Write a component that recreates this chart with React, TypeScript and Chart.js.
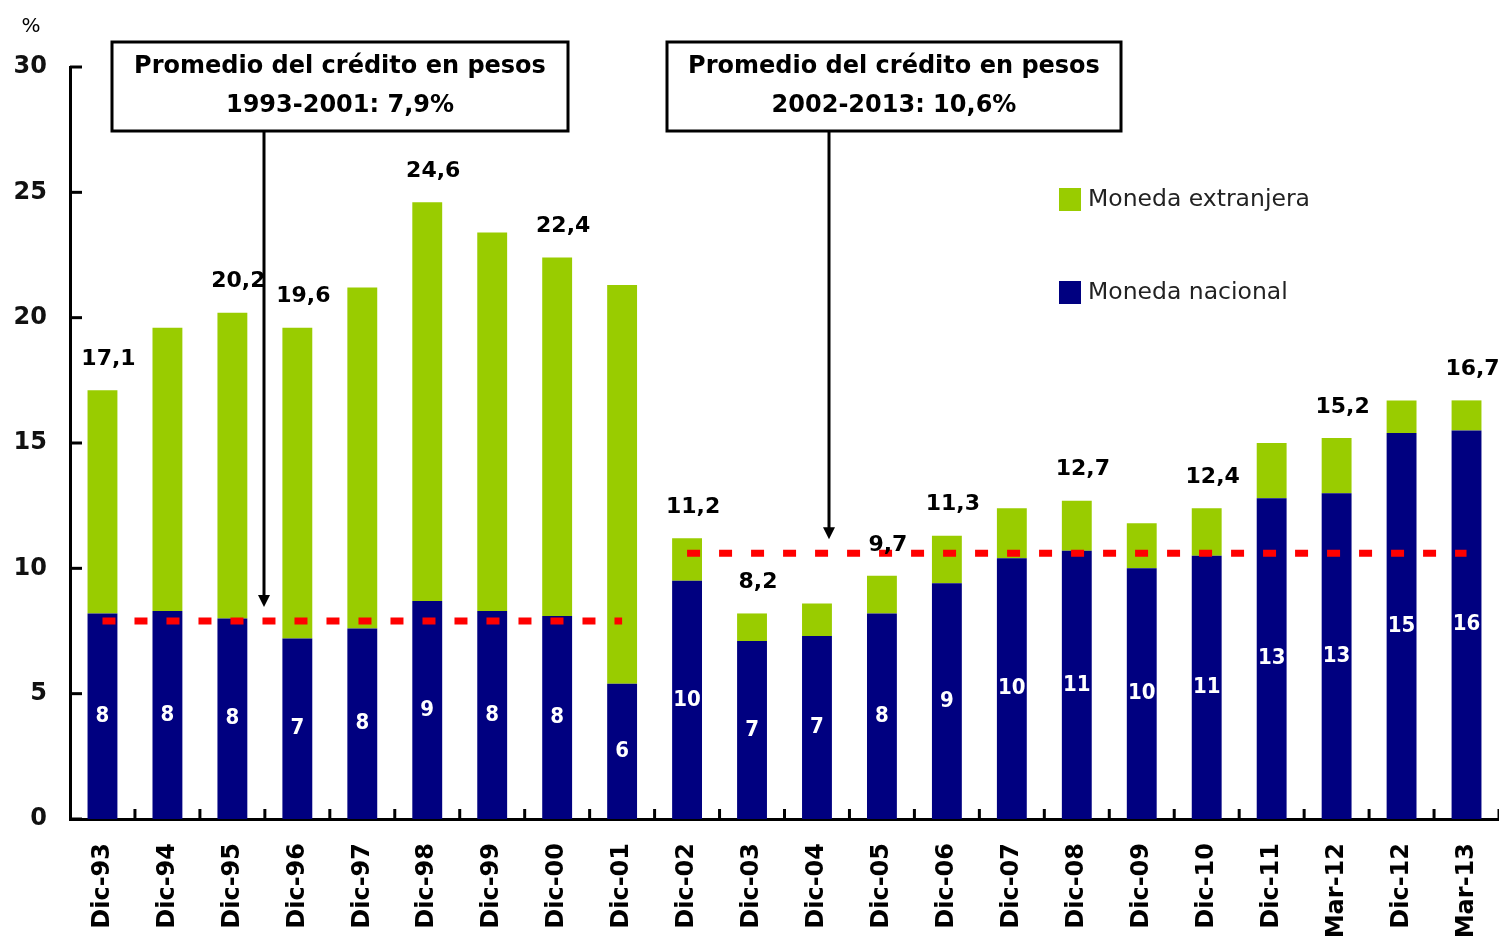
import React, { useEffect, useRef } from "react";
import { Chart, registerables } from "chart.js";

Chart.register(...registerables);

const categories = [
  "Dic-93", "Dic-94", "Dic-95", "Dic-96", "Dic-97", "Dic-98", "Dic-99", "Dic-00",
  "Dic-01", "Dic-02", "Dic-03", "Dic-04", "Dic-05", "Dic-06", "Dic-07", "Dic-08",
  "Dic-09", "Dic-10", "Dic-11", "Mar-12", "Dic-12", "Mar-13",
];

const monedaNacional = [
  8.2, 8.3, 8.0, 7.2, 7.6, 8.7, 8.3, 8.1, 5.4, 9.5, 7.1, 7.3, 8.2, 9.4, 10.4, 10.7,
  10.0, 10.5, 12.8, 13.0, 15.4, 15.5,
];

const monedaExtranjera = [
  8.9, 11.3, 12.2, 12.4, 13.6, 15.9, 15.1, 14.3, 15.9, 1.7, 1.1, 1.3, 1.5, 1.9, 2.0, 2.0,
  1.8, 1.9, 2.2, 2.2, 1.3, 1.2,
];

const nacionalLabels = [8, 8, 8, 7, 8, 9, 8, 8, 6, 10, 7, 7, 8, 9, 10, 11, 10, 11, 13, 13, 15, 16];

const totalLabels: (number | null)[] = [
  17.1, null, 20.2, 19.6, null, 24.6, null, 22.4, null, 11.2, 8.2, null, 9.7, 11.3, null,
  12.7, null, 12.4, null, 15.2, null, 16.7,
];

const promedio1993_2001 = [7.9, 7.9, 7.9, 7.9, 7.9, 7.9, 7.9, 7.9, 7.9, null, null, null, null, null, null, null, null, null, null, null, null, null];
const promedio2002_2013 = [null, null, null, null, null, null, null, null, null, 10.6, 10.6, 10.6, 10.6, 10.6, 10.6, 10.6, 10.6, 10.6, 10.6, 10.6, 10.6, 10.6];

const yTicks = [0, 5, 10, 15, 20, 25, 30];

const GREEN = "#99CC00";
const BLUE = "#000080";
const RED = "#FF0000";
const FONT = "'DejaVu Sans', sans-serif";
const NARROW = "'DejaVu Sans Condensed', 'DejaVu Sans', sans-serif";

const overlayPlugin = {
  id: "overlay",
  afterDatasetsDraw(chart: any) {
    const ctx = chart.ctx as CanvasRenderingContext2D;
    const metaN = chart.getDatasetMeta(2);
    const metaE = chart.getDatasetMeta(3);
    metaN.data.forEach((bar: any, i: number) => {
      const p = bar.getProps(["x", "y", "base", "width"], true);
      ctx.save();
      ctx.beginPath();
      ctx.rect(p.x - p.width / 2, p.y, p.width, p.base - p.y);
      ctx.clip();
      ctx.fillStyle = "#FFFFFF";
      ctx.font = `bold 22px ${NARROW}`;
      ctx.textAlign = "center";
      ctx.textBaseline = "middle";
      ctx.fillText(String(nacionalLabels[i]), p.x, (p.y + p.base) / 2);
      ctx.restore();
    });
    metaE.data.forEach((bar: any, i: number) => {
      const v = totalLabels[i];
      if (v == null) return;
      const p = bar.getProps(["x", "y"], true);
      ctx.save();
      ctx.fillStyle = "#000";
      ctx.font = `bold 22px ${FONT}`;
      ctx.textAlign = "center";
      ctx.textBaseline = "middle";
      ctx.fillText(v.toFixed(1).replace(".", ","), p.x + 6, p.y - 31);
      ctx.restore();
    });
  },
  afterDraw(chart: any) {
    const ctx = chart.ctx as CanvasRenderingContext2D;
    const xs = chart.scales.x;
    const ys = chart.scales.y;
    const area = chart.chartArea;
    ctx.save();
    ctx.strokeStyle = "#000";
    ctx.lineWidth = 3;
    yTicks.forEach((t) => {
      const py = ys.getPixelForValue(t);
      ctx.beginPath();
      ctx.moveTo(area.left, py);
      ctx.lineTo(area.left + 12, py);
      ctx.stroke();
    });
    for (let i = 1; i <= categories.length; i++) {
      const px = xs.getPixelForValue(i - 0.5);
      ctx.beginPath();
      ctx.moveTo(px, area.bottom);
      ctx.lineTo(px, area.bottom - 10);
      ctx.stroke();
    }
    ctx.fillStyle = "#000";
    ctx.font = `20px ${FONT}`;
    ctx.textAlign = "center";
    ctx.textBaseline = "middle";
    ctx.fillText("%", 31, 27);

    const boxes = [
      { x: 112, w: 456, l2: "1993-2001: 7,9%", ax: 264, val: 7.9 },
      { x: 667, w: 454, l2: "2002-2013: 10,6%", ax: 829, val: 10.6 },
    ];
    boxes.forEach((b) => {
      ctx.fillStyle = "#FFF";
      ctx.fillRect(b.x, 42, b.w, 89);
      ctx.lineWidth = 3;
      ctx.strokeStyle = "#000";
      ctx.strokeRect(b.x, 42, b.w, 89);
      ctx.fillStyle = "#000";
      ctx.font = `bold 24px ${FONT}`;
      ctx.textAlign = "center";
      ctx.textBaseline = "middle";
      ctx.fillText("Promedio del crédito en pesos", b.x + b.w / 2, 67);
      ctx.fillText(b.l2, b.x + b.w / 2, 106);
      const tip = ys.getPixelForValue(b.val) - 14;
      ctx.beginPath();
      ctx.moveTo(b.ax, 132);
      ctx.lineTo(b.ax, tip - 8);
      ctx.stroke();
      ctx.beginPath();
      ctx.moveTo(b.ax - 6, tip - 12);
      ctx.lineTo(b.ax + 6, tip - 12);
      ctx.lineTo(b.ax, tip);
      ctx.closePath();
      ctx.fill();
    });

    const legend = [
      { color: GREEN, text: "Moneda extranjera", y: 200 },
      { color: BLUE, text: "Moneda nacional", y: 293 },
    ];
    legend.forEach((l) => {
      ctx.fillStyle = l.color;
      ctx.fillRect(1059, l.y - 12, 22, 23);
      ctx.fillStyle = "#222";
      ctx.font = `23.5px ${FONT}`;
      ctx.textAlign = "left";
      ctx.textBaseline = "middle";
      ctx.fillText(l.text, 1088, l.y);
    });
    ctx.restore();
  },
};

export default function App() {
  const canvasRef = useRef<HTMLCanvasElement | null>(null);

  useEffect(() => {
    if (!canvasRef.current) return;
    const chart = new Chart(canvasRef.current, {
      type: "bar",
      data: {
        labels: categories,
        datasets: [
          {
            type: "line",
            label: "Promedio 1993-2001",
            data: promedio1993_2001,
            borderColor: RED,
            borderWidth: 7,
            borderDash: [13, 19],
            pointRadius: 0,
            fill: false,
            stack: "avg1",
            order: 0,
          } as any,
          {
            type: "line",
            label: "Promedio 2002-2013",
            data: promedio2002_2013,
            borderColor: RED,
            borderWidth: 7,
            borderDash: [13, 19],
            pointRadius: 0,
            fill: false,
            stack: "avg2",
            order: 0,
          } as any,
          {
            label: "Moneda nacional",
            data: monedaNacional,
            backgroundColor: BLUE,
            barPercentage: 0.46,
            categoryPercentage: 1,
            stack: "bars",
            order: 1,
          },
          {
            label: "Moneda extranjera",
            data: monedaExtranjera,
            backgroundColor: GREEN,
            barPercentage: 0.46,
            categoryPercentage: 1,
            stack: "bars",
            order: 1,
          },
        ],
      },
      options: {
        animation: false,
        responsive: true,
        maintainAspectRatio: false,
        events: [],
        layout: { padding: { top: 67, left: 0, right: 0, bottom: 0 } },
        plugins: {
          legend: { display: false },
          tooltip: { enabled: false },
        },
        scales: {
          x: {
            stacked: true,
            grid: { display: false, drawTicks: false },
            border: { display: true, color: "#000", width: 3 },
            ticks: {
              color: "#000",
              font: { family: FONT, size: 24, weight: "bold" },
              minRotation: 90,
              maxRotation: 90,
              autoSkip: false,
              padding: 24,
            },
            afterFit: (s: any) => {
              s.height = 122;
              s.paddingRight = 0;
              s.paddingLeft = 0;
            },
          },
          y: {
            stacked: true,
            min: 0,
            max: 30,
            grid: { display: false, drawTicks: false },
            border: { display: true, color: "#000", width: 3 },
            ticks: {
              stepSize: 5,
              color: "#111",
              font: { family: FONT, size: 24, weight: "bold" },
              padding: 23,
            },
            afterFit: (s: any) => {
              s.width = 70;
              s.paddingTop = 0;
              s.paddingBottom = 0;
            },
          },
        },
      },
      plugins: [overlayPlugin],
    });
    return () => chart.destroy();
  }, []);

  return (
    <div style={{ position: "absolute", left: 0, top: 0, width: 1499, height: 941, background: "#fff" }}>
      <canvas ref={canvasRef} />
    </div>
  );
}
